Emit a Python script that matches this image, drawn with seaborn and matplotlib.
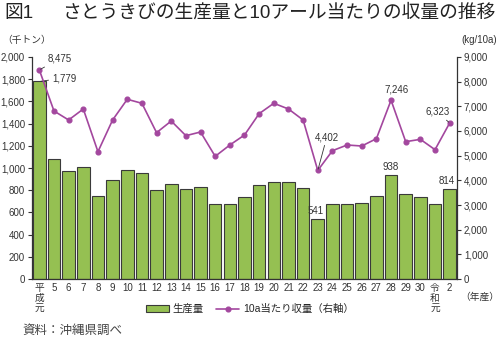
import numpy as np
import pandas as pd
import matplotlib
matplotlib.use("Agg")
import matplotlib.pyplot as plt
import seaborn as sns
from matplotlib.ticker import FuncFormatter, MultipleLocator

sns.set_theme(style="white")
plt.rcParams['font.family'] = ['Liberation Sans', 'Noto Sans CJK JP', 'DejaVu Sans']

# ---- data ----
years = ["平\n成\n元", "5", "6", "7", "8", "9", "10", "11", "12", "13", "14", "15", "16",
         "17", "18", "19", "20", "21", "22", "23", "24", "25", "26", "27", "28", "29",
         "30", "令\n和\n元", "2"]
production = [1779, 1080, 973, 1012, 750, 889, 982, 955, 799, 853, 808, 829, 673,
              673, 736, 847, 877, 877, 817, 541, 673, 678, 682, 750, 938, 763,
              739, 673, 814]
yield_10a = [8475, 6810, 6445, 6891, 5161, 6445, 7284, 7122, 5932, 6404, 5810, 5959, 4973,
             5432, 5837, 6702, 7122, 6891, 6445, 4402, 5202, 5432, 5391, 5688, 7246, 5567,
             5662, 5243, 6323]

df = pd.DataFrame({"year": years, "production": production, "yield": yield_10a})

bar_color = "#95c052"
edge_color = "#3a3a3a"
line_color = "#a3479e"

fig = plt.figure(figsize=(5, 3.45), dpi=100)
ax = fig.add_axes([0.064, 0.191, 0.85, 0.644])

sns.barplot(data=df, x="year", y="production", ax=ax, color=bar_color, saturation=1,
            edgecolor=edge_color, linewidth=0.8, width=0.86, label="生産量", order=years)

ax2 = ax.twinx()
sns.pointplot(data=df, x="year", y="yield", ax=ax2, color=line_color, errorbar=None,
              markers="o", markersize=3.5, linewidth=1.2, label="10a当たり収量（右軸）",
              order=years)

n = len(years)
ax.set_xlim(-0.5, n - 0.5)
ax2.set_xlim(-0.5, n - 0.5)
ax.set_ylim(0, 2000)
ax2.set_ylim(0, 9000)
ax.yaxis.set_major_locator(MultipleLocator(200))
ax2.yaxis.set_major_locator(MultipleLocator(1000))
fmt = FuncFormatter(lambda v, p: f"{int(v):,}")
ax.yaxis.set_major_formatter(fmt)
ax2.yaxis.set_major_formatter(fmt)

for a in (ax, ax2):
    a.set_xlabel("")
    a.set_ylabel("")
    a.spines["top"].set_visible(False)
    for s in a.spines.values():
        s.set_color("#333333")
        s.set_linewidth(0.9)

ax.spines["right"].set_visible(False)
ax2.spines["left"].set_visible(False)
ax2.spines["bottom"].set_visible(False)

ax.tick_params(axis="y", direction="out", length=3, width=0.8, colors="#333333",
               labelsize=7, pad=2, left=True)
ax2.tick_params(axis="y", direction="out", length=3, width=0.8, colors="#333333",
                labelsize=7, pad=2, right=True)
ax.tick_params(axis="x", length=0, labelsize=7, pad=3, colors="#333333")
ax.set_xticks(range(n))
ax.set_xticklabels(years, linespacing=0.95)
ax2.tick_params(axis="x", length=0, labelbottom=False)

# annotations
lk = dict(arrowstyle="-", color="#333333", lw=0.6, shrinkA=0, shrinkB=1)
ax2.annotate("8,475", xy=(0, yield_10a[0]), xytext=(6, 8), textcoords="offset points",
             fontsize=7, ha="left", va="center", color="#333333", arrowprops=lk)
ax.annotate("1,779", xy=(0, production[0]), xytext=(9, 2.5), textcoords="offset points",
            fontsize=7, ha="left", va="center", color="#333333", arrowprops=lk)
ax2.annotate("4,402", xy=(19, yield_10a[19]), xytext=(6.5, 24), textcoords="offset points",
             fontsize=7, ha="center", va="center", color="#333333", arrowprops=lk)
ax2.annotate("7,246", xy=(24, yield_10a[24]), xytext=(4, 4), textcoords="offset points",
             fontsize=7, ha="center", va="bottom", color="#333333")
ax2.annotate("6,323", xy=(28, yield_10a[28]), xytext=(-9, 8), textcoords="offset points",
             fontsize=7, ha="center", va="center", color="#333333", arrowprops=lk)
ax.annotate("938", xy=(24, production[24]), xytext=(0, 2), textcoords="offset points",
            fontsize=7, ha="center", va="bottom", color="#333333")
ax.annotate("541", xy=(19, production[19]), xytext=(-1.5, 2), textcoords="offset points",
            fontsize=7, ha="center", va="bottom", color="#333333")
ax.annotate("814", xy=(28, production[28]), xytext=(-2.5, 2), textcoords="offset points",
            fontsize=7, ha="center", va="bottom", color="#333333")

# legend
h1, l1 = ax.get_legend_handles_labels()
h2, l2 = ax2.get_legend_handles_labels()
for lg in (ax.get_legend(), ax2.get_legend()):
    if lg is not None:
        lg.remove()
fig.legend(h1 + h2, l1 + l2, loc="center", bbox_to_anchor=(0.5, 0.104), ncol=2,
           frameon=False, fontsize=7.5, handlelength=2.2, handleheight=0.6,
           columnspacing=1.2, handletextpad=0.4)

# texts
fig.text(0.008, 0.962, "図1", fontsize=13.5, ha="left", va="center", color="#222222")
fig.text(0.124, 0.962, "さとうきびの生産量と10アール当たりの収量の推移",
         fontsize=13.5, ha="left", va="center", color="#222222")
fig.text(0.004, 0.884, "（千トン）", fontsize=7, ha="left", va="center", color="#333333")
fig.text(0.995, 0.884, "(kg/10a)", fontsize=7, ha="right", va="center", color="#333333")
fig.text(0.998, 0.139, "（年産）", fontsize=7, ha="right", va="center", color="#333333")
fig.text(0.044, 0.041, "資料：沖縄県調べ", fontsize=9, ha="left", va="center", color="#444444")

fig.savefig("out.png", dpi=100)
